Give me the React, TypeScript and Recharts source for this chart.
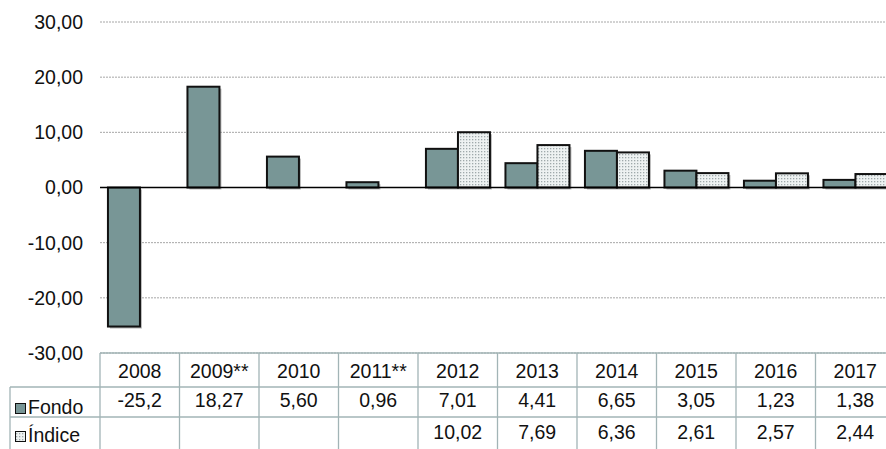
import React from 'react';
import { BarChart, Bar, XAxis, YAxis, CartesianGrid, ReferenceLine } from 'recharts';

const years = ['2008', '2009**', '2010', '2011**', '2012', '2013', '2014', '2015', '2016', '2017'];
const fondo = [-25.2, 18.27, 5.6, 0.96, 7.01, 4.41, 6.65, 3.05, 1.23, 1.38];
const indice: (number | null)[] = [null, null, null, null, 10.02, 7.69, 6.36, 2.61, 2.57, 2.44];
const fondoLabels = ['-25,2', '18,27', '5,60', '0,96', '7,01', '4,41', '6,65', '3,05', '1,23', '1,38'];
const indiceLabels = ['', '', '', '', '10,02', '7,69', '6,36', '2,61', '2,57', '2,44'];
const yTicks = [-30, -20, -10, 0, 10, 20, 30];

const data = years.map((y, i) => ({ year: y, fondo: fondo[i], indice: indice[i] }));

const FONT = '"Liberation Sans", Arial, sans-serif';
const FS = 19.5;
const FONDO_FILL = '#789696';
const LINE = '#a2b4b6';

const ShadowBar = (props: any) => {
  const { x, y, width, height, fill } = props;
  if (x == null || y == null || !width || !height) return null;
  const yy = Math.min(y, y + height);
  const hh = Math.abs(height);
  return (
    <g>
      <rect x={x + 2} y={yy + 2} width={width} height={hh} fill="#8c8c8c" opacity={0.6} />
      <rect x={x} y={yy} width={width} height={hh} fill={fill} stroke="#111" strokeWidth={2} />
    </g>
  );
};

const TableTick = (props: any) => {
  const { x, y, payload, index } = props;
  const half = payload && payload.offset ? payload.offset : 39.75;
  const i = payload && payload.index != null ? payload.index : index;
  const left = x - half;
  const right = x + half;
  const bottom = y + 100;
  const t = { fontFamily: FONT, fontSize: FS, fill: '#111', textAnchor: 'middle' as const };
  const legendX = left - 90;
  return (
    <g>
      <line x1={left} x2={right} y1={y} y2={y} stroke={LINE} strokeWidth={1.3} />
      <line x1={left} x2={right} y1={y + 34} y2={y + 34} stroke={LINE} strokeWidth={1.3} />
      <line x1={left} x2={right} y1={y + 64} y2={y + 64} stroke={LINE} strokeWidth={1.3} />
      <line x1={right} x2={right} y1={y} y2={bottom} stroke={LINE} strokeWidth={1.3} />
      {i === 0 && (
        <g>
          <line x1={left} x2={left} y1={y} y2={bottom} stroke={LINE} strokeWidth={1.3} />
          <line x1={legendX} x2={left} y1={y + 34} y2={y + 34} stroke={LINE} strokeWidth={1.3} />
          <line x1={legendX} x2={left} y1={y + 64} y2={y + 64} stroke={LINE} strokeWidth={1.3} />
          <line x1={legendX} x2={legendX} y1={y + 34} y2={bottom} stroke={LINE} strokeWidth={1.3} />
          <rect x={legendX + 5.5} y={y + 50.5} width={10} height={10} fill={FONDO_FILL} stroke="#111" strokeWidth={1} />
          <text x={legendX + 18} y={y + 61} fontFamily={FONT} fontSize={FS} fill="#111">Fondo</text>
          <rect x={legendX + 5.5} y={y + 78.5} width={10} height={10} fill="url(#dots)" stroke="#111" strokeWidth={1} />
          <text x={legendX + 18} y={y + 89} fontFamily={FONT} fontSize={FS} fill="#111">Índice</text>
        </g>
      )}
      <text x={x} y={y + 24.5} {...t}>{years[i]}</text>
      <text x={x} y={y + 54} {...t}>{fondoLabels[i]}</text>
      <text x={x} y={y + 85.5} {...t}>{indiceLabels[i]}</text>
    </g>
  );
};

export default function App() {
  return (
    <div style={{ position: 'absolute', left: 0, top: 0, width: 886, height: 449, overflow: 'hidden', background: '#fff' }}>
      <BarChart
        width={900}
        height={449}
        data={data}
        margin={{ top: 22, right: 5, left: 0, bottom: 0 }}
        barCategoryGap="10%"
        barGap={0}
      >
        <defs>
          <pattern id="dots" width="3" height="3" patternUnits="userSpaceOnUse">
            <rect width="3" height="3" fill="#eef2f2" />
            <rect x="1" y="1" width="1.3" height="1.3" fill="#9fa9ab" />
          </pattern>
        </defs>
        <CartesianGrid vertical={false} stroke="#a6a6a6" strokeDasharray="2 1" />
        <XAxis
          dataKey="year"
          axisLine={false}
          tickLine={false}
          tickSize={0}
          tickMargin={0}
          height={96}
          interval={0}
          tick={<TableTick />}
        />
        <YAxis
          width={100}
          domain={[-30, 30]}
          ticks={yTicks}
          tickFormatter={(v: number) => v.toFixed(2).replace('.', ',')}
          axisLine={false}
          tickLine={false}
          tickMargin={11}
          tick={{ fill: '#111', fontSize: FS, fontFamily: FONT }}
        />
        <Bar dataKey="fondo" fill={FONDO_FILL} shape={<ShadowBar />} isAnimationActive={false} />
        <Bar dataKey="indice" fill="url(#dots)" shape={<ShadowBar />} isAnimationActive={false} />
        <ReferenceLine y={0} stroke="#000" strokeWidth={1.5} />
      </BarChart>
    </div>
  );
}
